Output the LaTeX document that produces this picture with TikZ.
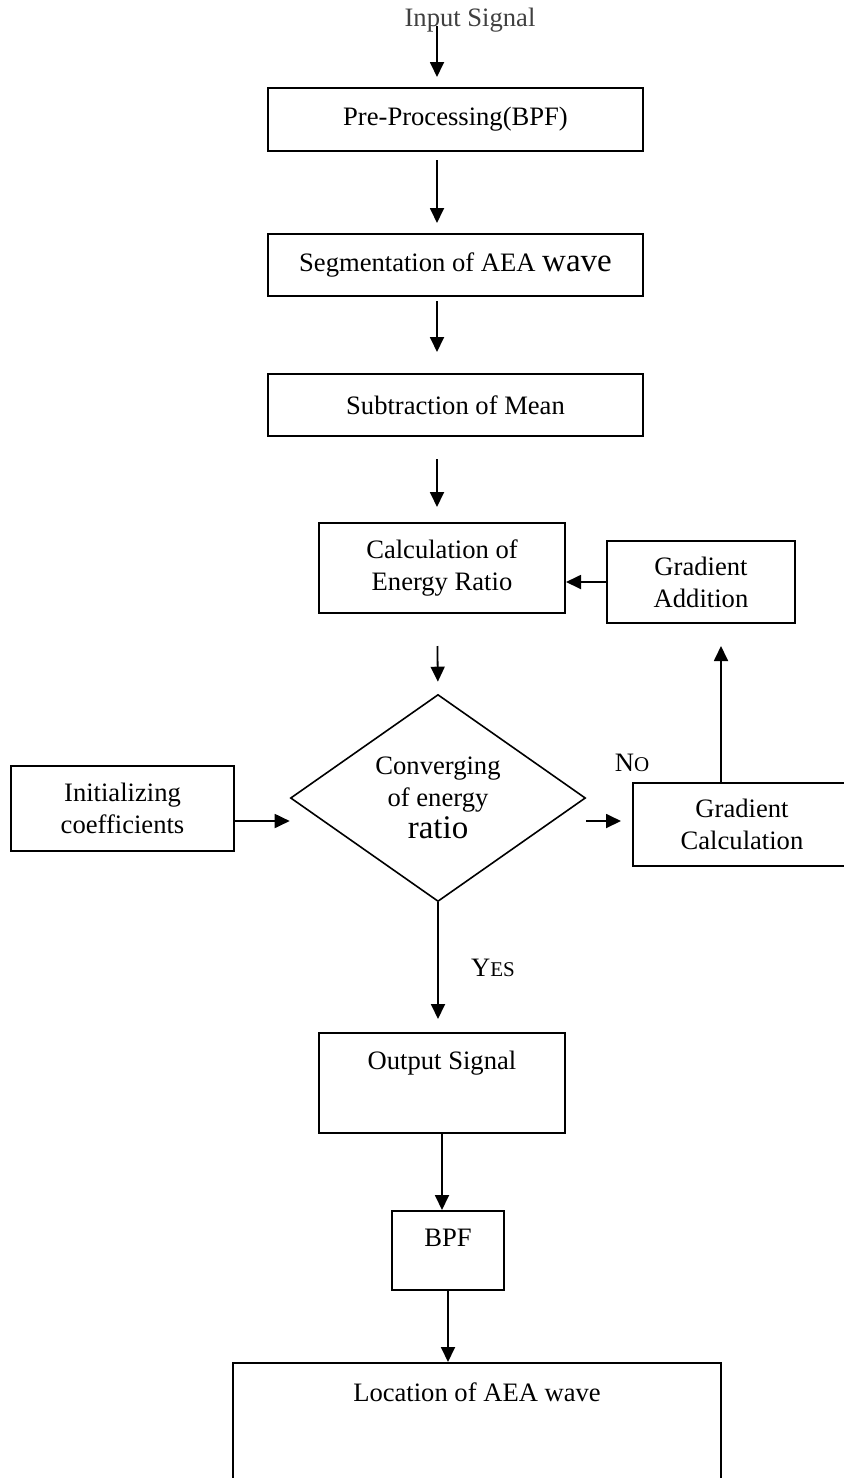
\documentclass[tikz,border=0pt]{standalone}
\usepackage{fontspec}
\setmainfont{Liberation Serif}
\usetikzlibrary{shapes.geometric,arrows.meta}

\newcommand{\capsmall}[1]{{\fontsize{10.5}{12}\selectfont #1}}
\newcommand{\bigword}[1]{{\fontsize{16.5}{18}\selectfont #1}}

\begin{document}
\begin{tikzpicture}[x=0.5pt, y=-0.5pt,
    font=\fontsize{13.3}{16}\selectfont,
    box/.style={draw, line width=1pt, inner sep=0pt, align=center},
    topbox/.style={box, text height=10pt, text depth=#1},
    arr/.style={->, >={Triangle[length=7.5pt,width=7pt]}, line width=0.9pt}]
  \useasboundingbox (0,0) rectangle (843,1478);
  \coordinate (axis) at (437,0);
  \coordinate (lvl) at (0,821);
  \coordinate (rise) at (721,0);

  \node [black!75] (input) at (470,20) {Input Signal};
  \node [box, minimum width=187.5pt, minimum height=31.5pt] (pre) at (455.5,119.5) {Pre-Processing(BPF)};
  \node [box, minimum width=187.5pt, minimum height=31pt] (seg) at (455.5,265) {Segmentation of AEA \bigword{wave}};
  \node [box, minimum width=187.5pt, minimum height=31pt] (sub) at (455.5,405) {Subtraction of Mean};
  \node [box, minimum width=123pt, minimum height=45pt] (calc) at (442,568) {Calculation of\\Energy Ratio};
  \node [box, minimum width=94pt, minimum height=41pt] (gadd) at (701,582) {Gradient\\Addition};
  \node [diamond, draw, line width=0.8pt, inner sep=0pt, aspect=1.43, align=center,
         minimum width=147.5pt, minimum height=103.5pt] (conv) at (438,798) {Converging\\of energy\\\bigword{ratio}};
  \node [box, minimum width=111.5pt, minimum height=42.5pt] (init) at (122.5,808.5) {Initializing\\coefficients};
  \node [box, minimum width=109pt, minimum height=41.5pt] (gcalc) at (742,824.5) {Gradient\\Calculation};
  \node [topbox=24pt, minimum width=123pt, minimum height=50pt] (out) at (442,1083) {Output Signal};
  \node [topbox=14.5pt, minimum width=56pt, minimum height=39.5pt] (bpf) at (448,1250.5) {BPF};
  \node [topbox=40.5pt, minimum width=244pt, minimum height=68.5pt] (loc) at (477,1431.5) {Location of AEA wave};

  \node (no) at (632,763) {N\capsmall{O}};
  \node (yes) at (493,968) {Y\capsmall{ES}};

  \draw [arr, shorten >=5pt] (input.base -| axis) -- (pre.north -| axis);
  \draw [arr, shorten <=4pt, shorten >=5pt] (pre.south -| axis) -- (seg.north -| axis);
  \draw [arr, shorten <=2pt, shorten >=10.5pt] (seg.south -| axis) -- (sub.north -| axis);
  \draw [arr, shorten <=11pt, shorten >=7.5pt] (sub.south -| axis) -- (calc.north -| axis);
  \draw [arr, shorten <=16pt, shorten >=6pt] (calc.south -| axis) -- (conv.north);
  \draw [arr, shorten >=6.5pt] (conv.south) -- (out.north -| conv.south);
  \draw [arr] (out.south) -- (bpf.north -| out.south);
  \draw [arr] (bpf.south) -- (loc.north -| bpf.south);
  \draw [arr] (lvl -| init.east) -- (lvl -| conv.west);
  \draw [arr, shorten >=5.5pt] (lvl -| conv.east) -- (lvl -| gcalc.west);
  \draw [arr, shorten >=11pt] (rise |- gcalc.north) -- (rise |- gadd.south);
  \draw [arr] (gadd.west) -- (gadd.west -| calc.east);
\end{tikzpicture}
\end{document}
